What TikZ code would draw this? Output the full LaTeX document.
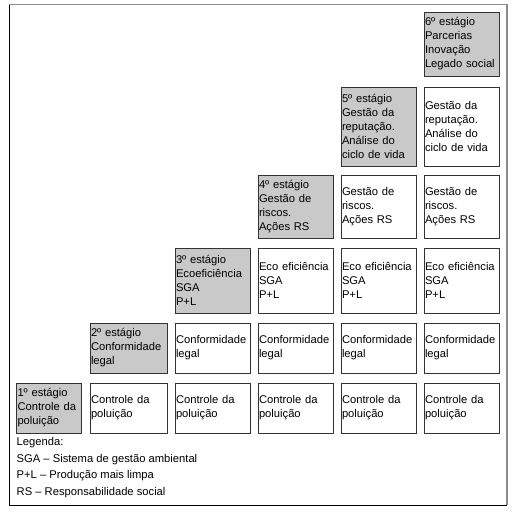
\documentclass[tikz,border=0pt]{standalone}
\usepackage{fontspec}
\setmainfont{Liberation Sans}
\definecolor{stagegray}{RGB}{201,201,201}
\definecolor{framegray}{RGB}{140,140,140}

\begin{document}
\begin{tikzpicture}[x=1pt,y=-1pt,
	cell/.style={draw=black!80, line width=0.8pt, text width=73pt, inner xsep=1pt, inner ysep=1pt, align=left, font=\fontsize{11.2}{14}\selectfont},
	stagebox/.style={cell, fill=stagegray},
	levelbox/.style={cell, fill=white}]
	\useasboundingbox (0,0) rectangle (516,515);
	\draw [framegray, line width=1.5pt] (9,4.5) -- (507,4.5) -- (507,505);%moldura cima/direita
	\draw [black, line width=1pt] (9,4.5) -- (9,505) -- (507,505);%moldura esquerda/baixo

	%1o estagio
	\node[stagebox, text width=63pt, minimum height=50pt] (s1) at (49,408) {1º estágio\\Controle da\\poluição};
	\node[levelbox, text width=75pt, minimum height=50pt] (ctrl2) at (128.5,408) {Controle da\\poluição};
	\node[levelbox, minimum height=50pt] (ctrl3) at (212.5,408) {Controle da\\poluição};
	\node[levelbox, minimum height=50pt] (ctrl4) at (295.5,408) {Controle da\\poluição};
	\node[levelbox, minimum height=50pt] (ctrl5) at (378.5,408) {Controle da\\poluição};
	\node[levelbox, minimum height=50pt] (ctrl6) at (461.5,408) {Controle da\\poluição};

	%2o estagio
	\node[stagebox, text width=75pt, minimum height=50pt] (s2) at (128.5,348) {2º estágio\\Conformidade\\legal};
	\node[levelbox, minimum height=50pt] (conf3) at (212.5,348) {Conformidade\\legal};
	\node[levelbox, minimum height=50pt] (conf4) at (295.5,348) {Conformidade\\legal};
	\node[levelbox, minimum height=50pt] (conf5) at (378.5,348) {Conformidade\\legal};
	\node[levelbox, minimum height=50pt] (conf6) at (461.5,348) {Conformidade\\legal};

	%3o estagio
	\node[stagebox, minimum height=65pt] (s3) at (212.5,280.5) {3º estágio\\Ecoeficiência\\SGA\\P+L};
	\node[levelbox, minimum height=65pt] (eco4) at (295.5,280.5) {Eco eficiência\\SGA\\P+L};
	\node[levelbox, minimum height=65pt] (eco5) at (378.5,280.5) {Eco eficiência\\SGA\\P+L};
	\node[levelbox, minimum height=65pt] (eco6) at (461.5,280.5) {Eco eficiência\\SGA\\P+L};

	%4o estagio
	\node[stagebox, minimum height=63pt] (s4) at (295.5,206.5) {4º estágio\\Gestão de\\riscos.\\Ações RS};
	\node[levelbox, minimum height=63pt] (risk5) at (378.5,206.5) {Gestão de\\riscos.\\Ações RS};
	\node[levelbox, minimum height=63pt] (risk6) at (461.5,206.5) {Gestão de\\riscos.\\Ações RS};

	%5o estagio
	\node[stagebox, minimum height=79pt] (s5) at (378.5,126.5) {5º estágio\\Gestão da\\reputação.\\Análise do\\ciclo de vida};
	\node[levelbox, minimum height=79pt] (rep6) at (461.5,126.5) {Gestão da\\reputação.\\Análise do\\ciclo de vida};

	%6o estagio
	\node[stagebox, minimum height=64pt] (s6) at (461.5,44) {6º estágio\\Parcerias\\Inovação\\Legado social};

	%legenda
	\node[anchor=north west, align=left, inner sep=1.5pt, font=\fontsize{11.2}{16.5}\selectfont] (legend) at (15,436) {Legenda:\\SGA -- Sistema de gestão ambiental\\P+L -- Produção mais limpa\\RS -- Responsabilidade social};
\end{tikzpicture}
\end{document}
